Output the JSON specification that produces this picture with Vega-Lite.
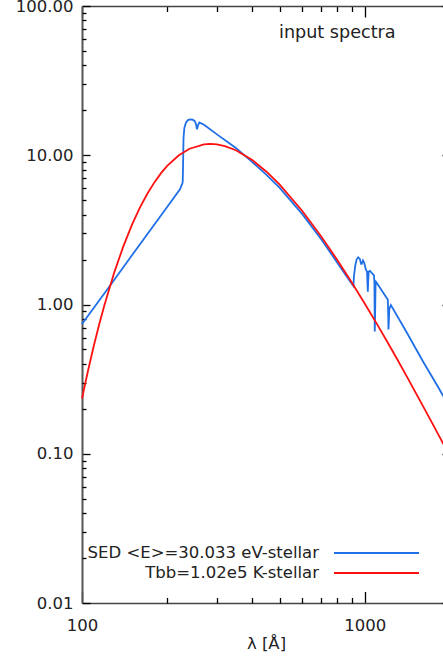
{
  "$schema": "https://vega.github.io/schema/vega-lite/v6.json",
  "width": 368,
  "height": 597,
  "autosize": {"type": "none"},
  "padding": {"left": 82, "top": 6, "right": -7, "bottom": 55},
  "background": "white",
  "config": {"view": {"stroke": null}, "font": "DejaVu Sans", "axis": {"tickColor": "#000", "tickWidth": 1.3, "tickRound": true, "ticks": true}},
  "title": {"text": "input spectra", "anchor": "start", "frame": "group", "dx": 197, "offset": -58, "baseline": "alphabetic", "fontSize": 17.6, "fontWeight": "normal", "font": "DejaVu Sans", "color": "#222"},
  "data": {"values": [
    {"w": 100, "f": 0.74, "s": "SED <E>=30.033 eV-stellar"},
    {"w": 125, "f": 1.32, "s": "SED <E>=30.033 eV-stellar"},
    {"w": 150, "f": 2.13, "s": "SED <E>=30.033 eV-stellar"},
    {"w": 175, "f": 3.18, "s": "SED <E>=30.033 eV-stellar"},
    {"w": 200, "f": 4.5, "s": "SED <E>=30.033 eV-stellar"},
    {"w": 222, "f": 5.91, "s": "SED <E>=30.033 eV-stellar"},
    {"w": 225.5, "f": 6.35, "s": "SED <E>=30.033 eV-stellar"},
    {"w": 227, "f": 6.6, "s": "SED <E>=30.033 eV-stellar"},
    {"w": 227.8, "f": 9.0, "s": "SED <E>=30.033 eV-stellar"},
    {"w": 228.5, "f": 13.0, "s": "SED <E>=30.033 eV-stellar"},
    {"w": 230, "f": 15.2, "s": "SED <E>=30.033 eV-stellar"},
    {"w": 233, "f": 16.5, "s": "SED <E>=30.033 eV-stellar"},
    {"w": 237, "f": 17.2, "s": "SED <E>=30.033 eV-stellar"},
    {"w": 241, "f": 17.4, "s": "SED <E>=30.033 eV-stellar"},
    {"w": 246, "f": 17.3, "s": "SED <E>=30.033 eV-stellar"},
    {"w": 250, "f": 17.0, "s": "SED <E>=30.033 eV-stellar"},
    {"w": 253, "f": 16.2, "s": "SED <E>=30.033 eV-stellar"},
    {"w": 255, "f": 14.9, "s": "SED <E>=30.033 eV-stellar"},
    {"w": 257, "f": 15.8, "s": "SED <E>=30.033 eV-stellar"},
    {"w": 260, "f": 16.6, "s": "SED <E>=30.033 eV-stellar"},
    {"w": 270, "f": 16.0, "s": "SED <E>=30.033 eV-stellar"},
    {"w": 300, "f": 13.8, "s": "SED <E>=30.033 eV-stellar"},
    {"w": 350, "f": 11.2, "s": "SED <E>=30.033 eV-stellar"},
    {"w": 400, "f": 9.0, "s": "SED <E>=30.033 eV-stellar"},
    {"w": 450, "f": 7.35, "s": "SED <E>=30.033 eV-stellar"},
    {"w": 500, "f": 6.05, "s": "SED <E>=30.033 eV-stellar"},
    {"w": 600, "f": 4.05, "s": "SED <E>=30.033 eV-stellar"},
    {"w": 700, "f": 2.75, "s": "SED <E>=30.033 eV-stellar"},
    {"w": 800, "f": 1.9, "s": "SED <E>=30.033 eV-stellar"},
    {"w": 900, "f": 1.37, "s": "SED <E>=30.033 eV-stellar"},
    {"w": 911, "f": 1.33, "s": "SED <E>=30.033 eV-stellar"},
    {"w": 915, "f": 1.55, "s": "SED <E>=30.033 eV-stellar"},
    {"w": 925, "f": 1.82, "s": "SED <E>=30.033 eV-stellar"},
    {"w": 935, "f": 2.0, "s": "SED <E>=30.033 eV-stellar"},
    {"w": 947, "f": 2.07, "s": "SED <E>=30.033 eV-stellar"},
    {"w": 960, "f": 2.02, "s": "SED <E>=30.033 eV-stellar"},
    {"w": 970, "f": 1.87, "s": "SED <E>=30.033 eV-stellar"},
    {"w": 975, "f": 1.87, "s": "SED <E>=30.033 eV-stellar"},
    {"w": 985, "f": 1.97, "s": "SED <E>=30.033 eV-stellar"},
    {"w": 995, "f": 1.9, "s": "SED <E>=30.033 eV-stellar"},
    {"w": 1008, "f": 1.72, "s": "SED <E>=30.033 eV-stellar"},
    {"w": 1018, "f": 1.66, "s": "SED <E>=30.033 eV-stellar"},
    {"w": 1022, "f": 1.35, "s": "SED <E>=30.033 eV-stellar"},
    {"w": 1024.5, "f": 1.22, "s": "SED <E>=30.033 eV-stellar"},
    {"w": 1027, "f": 1.4, "s": "SED <E>=30.033 eV-stellar"},
    {"w": 1032, "f": 1.66, "s": "SED <E>=30.033 eV-stellar"},
    {"w": 1043, "f": 1.68, "s": "SED <E>=30.033 eV-stellar"},
    {"w": 1060, "f": 1.62, "s": "SED <E>=30.033 eV-stellar"},
    {"w": 1077, "f": 1.57, "s": "SED <E>=30.033 eV-stellar"},
    {"w": 1081, "f": 1.4, "s": "SED <E>=30.033 eV-stellar"},
    {"w": 1084, "f": 0.66, "s": "SED <E>=30.033 eV-stellar"},
    {"w": 1087, "f": 0.85, "s": "SED <E>=30.033 eV-stellar"},
    {"w": 1091, "f": 1.35, "s": "SED <E>=30.033 eV-stellar"},
    {"w": 1095, "f": 1.42, "s": "SED <E>=30.033 eV-stellar"},
    {"w": 1101, "f": 1.4, "s": "SED <E>=30.033 eV-stellar"},
    {"w": 1190, "f": 1.12, "s": "SED <E>=30.033 eV-stellar"},
    {"w": 1205, "f": 1.08, "s": "SED <E>=30.033 eV-stellar"},
    {"w": 1209, "f": 0.9, "s": "SED <E>=30.033 eV-stellar"},
    {"w": 1212, "f": 0.68, "s": "SED <E>=30.033 eV-stellar"},
    {"w": 1215, "f": 0.75, "s": "SED <E>=30.033 eV-stellar"},
    {"w": 1220, "f": 0.93, "s": "SED <E>=30.033 eV-stellar"},
    {"w": 1236, "f": 0.99, "s": "SED <E>=30.033 eV-stellar"},
    {"w": 1400, "f": 0.66, "s": "SED <E>=30.033 eV-stellar"},
    {"w": 1600, "f": 0.42, "s": "SED <E>=30.033 eV-stellar"},
    {"w": 1800, "f": 0.288, "s": "SED <E>=30.033 eV-stellar"},
    {"w": 1900, "f": 0.241, "s": "SED <E>=30.033 eV-stellar"},
    {"w": 2000, "f": 0.204, "s": "SED <E>=30.033 eV-stellar"},
    {"w": 100, "f": 0.2345, "s": "Tbb=1.02e5 K-stellar"},
    {"w": 105, "f": 0.36, "s": "Tbb=1.02e5 K-stellar"},
    {"w": 110, "f": 0.525, "s": "Tbb=1.02e5 K-stellar"},
    {"w": 115, "f": 0.734, "s": "Tbb=1.02e5 K-stellar"},
    {"w": 120, "f": 0.989, "s": "Tbb=1.02e5 K-stellar"},
    {"w": 130, "f": 1.637, "s": "Tbb=1.02e5 K-stellar"},
    {"w": 140, "f": 2.453, "s": "Tbb=1.02e5 K-stellar"},
    {"w": 150, "f": 3.402, "s": "Tbb=1.02e5 K-stellar"},
    {"w": 160, "f": 4.436, "s": "Tbb=1.02e5 K-stellar"},
    {"w": 170, "f": 5.502, "s": "Tbb=1.02e5 K-stellar"},
    {"w": 180, "f": 6.553, "s": "Tbb=1.02e5 K-stellar"},
    {"w": 190, "f": 7.559, "s": "Tbb=1.02e5 K-stellar"},
    {"w": 200, "f": 8.48, "s": "Tbb=1.02e5 K-stellar"},
    {"w": 220, "f": 10.0, "s": "Tbb=1.02e5 K-stellar"},
    {"w": 240, "f": 11.06, "s": "Tbb=1.02e5 K-stellar"},
    {"w": 270, "f": 11.83, "s": "Tbb=1.02e5 K-stellar"},
    {"w": 284, "f": 11.9, "s": "Tbb=1.02e5 K-stellar"},
    {"w": 300, "f": 11.82, "s": "Tbb=1.02e5 K-stellar"},
    {"w": 320, "f": 11.52, "s": "Tbb=1.02e5 K-stellar"},
    {"w": 350, "f": 10.8, "s": "Tbb=1.02e5 K-stellar"},
    {"w": 400, "f": 9.28, "s": "Tbb=1.02e5 K-stellar"},
    {"w": 450, "f": 7.73, "s": "Tbb=1.02e5 K-stellar"},
    {"w": 500, "f": 6.35, "s": "Tbb=1.02e5 K-stellar"},
    {"w": 600, "f": 4.25, "s": "Tbb=1.02e5 K-stellar"},
    {"w": 700, "f": 2.87, "s": "Tbb=1.02e5 K-stellar"},
    {"w": 800, "f": 1.98, "s": "Tbb=1.02e5 K-stellar"},
    {"w": 900, "f": 1.4, "s": "Tbb=1.02e5 K-stellar"},
    {"w": 1000, "f": 1.012, "s": "Tbb=1.02e5 K-stellar"},
    {"w": 1100, "f": 0.747, "s": "Tbb=1.02e5 K-stellar"},
    {"w": 1200, "f": 0.5625, "s": "Tbb=1.02e5 K-stellar"},
    {"w": 1300, "f": 0.431, "s": "Tbb=1.02e5 K-stellar"},
    {"w": 1400, "f": 0.335, "s": "Tbb=1.02e5 K-stellar"},
    {"w": 1600, "f": 0.211, "s": "Tbb=1.02e5 K-stellar"},
    {"w": 1800, "f": 0.1395, "s": "Tbb=1.02e5 K-stellar"},
    {"w": 2000, "f": 0.0956, "s": "Tbb=1.02e5 K-stellar"}
  ]},
  "layer": [
    {
      "transform": [{"filter": "datum.s == 'SED <E>=30.033 eV-stellar'"}],
      "mark": {"type": "line", "strokeWidth": 1.8},
      "encoding": {
        "x": {"field": "w", "type": "quantitative",
          "scale": {"type": "log", "domain": [100, 2000], "nice": false},
          "axis": {"orient": "bottom", "values": [100, 1000], "format": "d",
            "tickSize": -11.5, "labelPadding": 25.5, "labelFontSize": 16.5, "labelColor": "#222", "labelFlush": false, "labelOverlap": false,
            "domainColor": "#444", "domainWidth": 1.5, "grid": false,
            "title": "λ [Å]", "titleFontSize": 16.5, "titleFontWeight": "normal", "titleColor": "#222", "titlePadding": 2}
        },
        "y": {"field": "f", "type": "quantitative",
          "scale": {"type": "log", "domain": [0.01, 100], "nice": false},
          "axis": {"orient": "left", "values": [0.01, 0.1, 1, 10, 100], "format": ".2f",
            "tickSize": -8, "labelPadding": 17, "labelFontSize": 16.5, "labelColor": "#222", "labelFlush": false, "labelOverlap": false,
            "domainColor": "#555", "domainWidth": 2, "grid": false, "title": null}
        },
        "color": {
          "field": "s", "type": "nominal",
          "scale": {"domain": ["SED <E>=30.033 eV-stellar", "Tbb=1.02e5 K-stellar"], "range": ["#1f6fe6", "#ff1010"]},
          "legend": {"orient": "none", "legendX": 285, "legendY": 537.5, "title": null, "direction": "vertical",
            "symbolType": "M-5,0H5", "symbolSize": 289, "symbolStrokeWidth": 1.8,
            "labelAlign": "right", "labelOffset": -67, "labelFontSize": 16.5, "labelFont": "DejaVu Sans",
            "labelColor": "#222", "labelLimit": 400, "rowPadding": 2, "padding": 0}
        }
      }
    },
    {
      "transform": [{"filter": "datum.s == 'SED <E>=30.033 eV-stellar'"}],
      "mark": {"type": "line", "opacity": 0},
      "encoding": {
        "x": {"field": "w", "type": "quantitative",
          "scale": {"type": "log", "domain": [100, 2000], "nice": false},
          "axis": {"orient": "bottom", "values": [200, 300, 400, 500, 600, 700, 800, 900, 2000],
            "labels": false, "tickSize": -5.5, "domain": false, "grid": false, "title": null}
        },
        "y": {"field": "f", "type": "quantitative",
          "scale": {"type": "log", "domain": [0.01, 100], "nice": false},
          "axis": {"orient": "left",
            "values": [0.02, 0.03, 0.04, 0.05, 0.06, 0.07, 0.08, 0.09, 0.2, 0.3, 0.4, 0.5, 0.6, 0.7, 0.8, 0.9, 2, 3, 4, 5, 6, 7, 8, 9, 20, 30, 40, 50, 60, 70, 80, 90],
            "labels": false, "tickSize": -4, "domain": false, "grid": false, "title": null}
        }
      }
    },
    {
      "transform": [{"filter": "datum.s == 'Tbb=1.02e5 K-stellar'"}],
      "mark": {"type": "line", "opacity": 0},
      "encoding": {
        "x": {"field": "w", "type": "quantitative",
          "scale": {"type": "log", "domain": [100, 2000], "nice": false},
          "axis": {"orient": "top", "values": [200, 300, 400, 500, 600, 700, 800, 900, 2000],
            "labels": false, "tickSize": -5.5, "domain": false, "grid": false, "title": null}
        },
        "y": {"field": "f", "type": "quantitative",
          "scale": {"type": "log", "domain": [0.01, 100], "nice": false},
          "axis": {"orient": "right",
            "values": [0.02, 0.03, 0.04, 0.05, 0.06, 0.07, 0.08, 0.09, 0.2, 0.3, 0.4, 0.5, 0.6, 0.7, 0.8, 0.9, 2, 3, 4, 5, 6, 7, 8, 9, 20, 30, 40, 50, 60, 70, 80, 90],
            "labels": false, "tickSize": -4, "domain": false, "grid": false, "title": null}
        }
      }
    },
    {
      "transform": [{"filter": "datum.s == 'Tbb=1.02e5 K-stellar'"}],
      "mark": {"type": "line", "strokeWidth": 1.8},
      "encoding": {
        "x": {"field": "w", "type": "quantitative",
          "scale": {"type": "log", "domain": [100, 2000], "nice": false},
          "axis": {"orient": "top", "values": [100, 1000], "labels": false, "tickSize": -11,
            "domainColor": "#444", "domainWidth": 1.5, "grid": false, "title": null}
        },
        "y": {"field": "f", "type": "quantitative",
          "scale": {"type": "log", "domain": [0.01, 100], "nice": false},
          "axis": {"orient": "right", "values": [0.01, 0.1, 1, 10, 100], "labels": false, "tickSize": -8,
            "domainColor": "#555", "domainWidth": 2, "grid": false, "title": null}
        },
        "color": {"field": "s", "type": "nominal"}
      }
    }
  ],
  "resolve": {"axis": {"x": "independent", "y": "independent"}}
}
